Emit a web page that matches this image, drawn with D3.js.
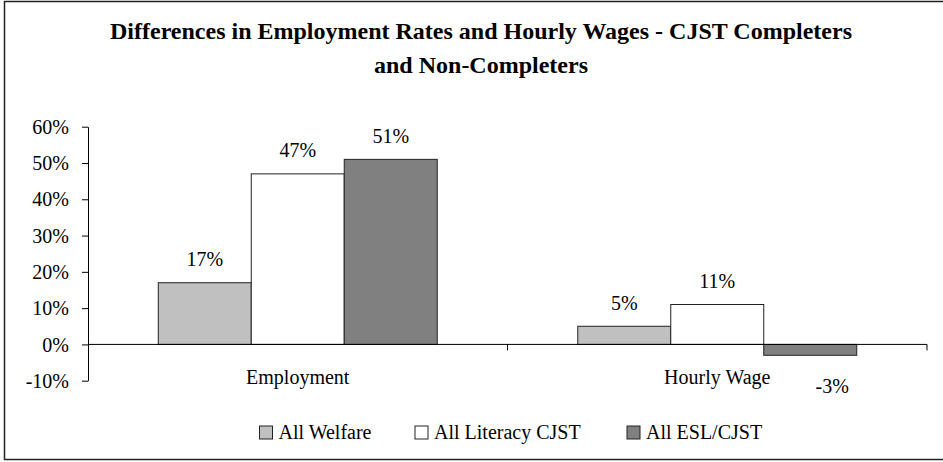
<!DOCTYPE html>
<html>
<head>
<meta charset="utf-8">
<script src="https://cdn.jsdelivr.net/npm/d3@7"></script>
<style>
  html, body { margin: 0; padding: 0; background: #fff; }
  svg text { font-family: "Liberation Serif", "Times New Roman", serif; fill: #000; }
</style>
</head>
<body>
<svg id="chart" width="943" height="462"></svg>
<script>
const categories = ["Employment", "Hourly Wage"];
const seriesNames = ["All Welfare", "All Literacy CJST", "All ESL/CJST"];
const seriesColors = ["#C0C0C0", "#FFFFFF", "#808080"];
const allWelfare = [0.17, 0.05];
const allLiteracyCJST = [0.47, 0.11];
const allESLCJST = [0.51, -0.03];
const yTicks = [-0.1, 0, 0.1, 0.2, 0.3, 0.4, 0.5, 0.6];
const titleLines = ["Differences in Employment Rates and Hourly Wages - CJST Completers", "and Non-Completers"];

const seriesValues = [allWelfare, allLiteracyCJST, allESLCJST];
const svg = d3.select("#chart");
const FONT = "Liberation Serif, Times New Roman, serif";

// outer border
svg.append("rect").attr("x", 4.5).attr("y", 1.5).attr("width", 945).attr("height", 458)
  .attr("fill", "none").attr("stroke", "#222").attr("stroke-width", 1.5);

// title
svg.append("g").selectAll("text").data(titleLines).join("text")
  .attr("x", 481).attr("y", (d, i) => 39 + i * 34)
  .attr("text-anchor", "middle").attr("font-weight", "bold").attr("font-size", 24)
  .attr("font-family", FONT)
  .text(d => d);

const plotLeft = 88, plotRight = 927;
const y = d3.scaleLinear().domain([-0.1, 0.6]).range([380.7, 126.7]);
const x0 = d3.scaleBand().domain(categories).range([plotLeft, plotRight]).padding(0);
const groupFrac = 0.665;
const x1 = d3.scaleBand().domain(seriesNames).range([0, x0.bandwidth() * groupFrac]).padding(0);
const groupOffset = x0.bandwidth() * (1 - groupFrac) / 2;

const pct = d3.format(".0%");
const fmt = v => pct(v).replace("\u2212", "-");

// y axis
const yAxis = d3.axisLeft(y).tickValues(yTicks).tickFormat(fmt).tickSize(6).tickSizeOuter(0);
const gy = svg.append("g").attr("transform", `translate(${plotLeft},0)`).call(yAxis);
gy.attr("font-family", FONT);
gy.select(".domain").attr("stroke", "#000");
gy.selectAll(".tick line").attr("stroke", "#000");
gy.selectAll(".tick text").attr("font-size", 20).attr("x", -19).attr("dy", "0.33em")
  .attr("fill", "#000");

// bars
const bars = svg.append("g");
categories.forEach((c, ci) => {
  seriesNames.forEach((s, si) => {
    const v = seriesValues[si][ci];
    const bx = x0(c) + groupOffset + x1(s);
    bars.append("rect")
      .attr("x", bx).attr("width", x1.bandwidth())
      .attr("y", y(Math.max(0, v))).attr("height", Math.abs(y(v) - y(0)))
      .attr("fill", seriesColors[si]).attr("stroke", "#222").attr("stroke-width", 1);
  });
});

// x axis line with boundary ticks
const xAxisG = svg.append("g");
xAxisG.append("line").attr("x1", plotLeft).attr("x2", plotRight).attr("y1", y(0)).attr("y2", y(0))
  .attr("stroke", "#000").attr("stroke-width", 1);
categories.forEach(c => {
  const xb = x0(c) + x0.bandwidth();
  xAxisG.append("line").attr("x1", xb).attr("x2", xb).attr("y1", y(0)).attr("y2", y(0) + 6)
    .attr("stroke", "#000");
});
// category labels
svg.append("g").selectAll("text").data(categories).join("text")
  .attr("x", d => x0(d) + x0.bandwidth() / 2).attr("y", 383.5)
  .attr("text-anchor", "middle").attr("font-size", 20).attr("font-family", FONT).text(d => d);

// value labels
const labels = svg.append("g");
categories.forEach((c, ci) => {
  seriesNames.forEach((s, si) => {
    const v = seriesValues[si][ci];
    const cx = x0(c) + groupOffset + x1(s) + x1.bandwidth() / 2;
    labels.append("text")
      .attr("x", v < 0 ? cx + 22 : cx)
      .attr("y", v < 0 ? y(v) + 38 : y(v) - 16.5)
      .attr("text-anchor", "middle").attr("font-size", 20).attr("font-family", FONT)
      .text(fmt(v));
  });
});

// legend
const legendX = [259.5, 415, 627];
const lg = svg.append("g");
seriesNames.forEach((s, i) => {
  lg.append("rect").attr("x", legendX[i]).attr("y", 426).attr("width", 13).attr("height", 13)
    .attr("fill", seriesColors[i]).attr("stroke", "#222").attr("stroke-width", 1);
  lg.append("text").attr("x", legendX[i] + 19).attr("y", 438.5).attr("font-size", 20)
    .attr("font-family", FONT).text(s);
});
</script>
</body>
</html>
